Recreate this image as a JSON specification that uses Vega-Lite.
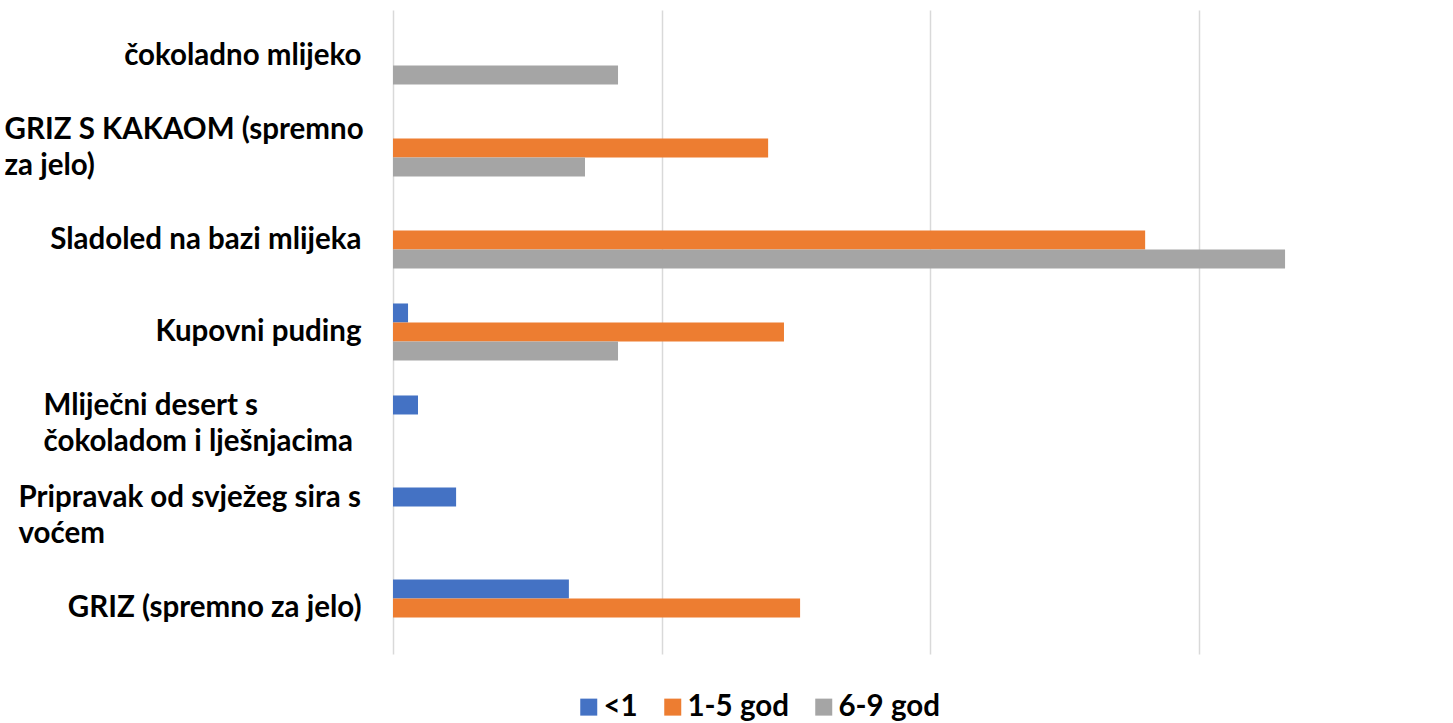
{
  "$schema": "https://vega.github.io/schema/vega-lite/v6.json",
  "autosize": "none",
  "padding": {"left": 393, "top": 10, "right": 147, "bottom": 69},
  "width": 913,
  "height": 644,
  "background": "white",
  "data": {
    "values": [
      {"category": "čokoladno mlijeko", "group": "6-9 god", "value": 0.838},
      {"category": "GRIZ S KAKAOM (spremno za jelo)", "group": "1-5 god", "value": 1.397},
      {"category": "GRIZ S KAKAOM (spremno za jelo)", "group": "6-9 god", "value": 0.715},
      {"category": "Sladoled na bazi mlijeka", "group": "1-5 god", "value": 2.801},
      {"category": "Sladoled na bazi mlijeka", "group": "6-9 god", "value": 3.322},
      {"category": "Kupovni puding", "group": "<1", "value": 0.056},
      {"category": "Kupovni puding", "group": "1-5 god", "value": 1.456},
      {"category": "Kupovni puding", "group": "6-9 god", "value": 0.838},
      {"category": "Mliječni desert s čokoladom i lješnjacima", "group": "<1", "value": 0.093},
      {"category": "Pripravak od svježeg sira s voćem", "group": "<1", "value": 0.235},
      {"category": "GRIZ (spremno za jelo)", "group": "<1", "value": 0.655},
      {"category": "GRIZ (spremno za jelo)", "group": "1-5 god", "value": 1.516}
    ]
  },
  "mark": {"type": "bar"},
  "encoding": {
    "y": {
      "field": "category",
      "type": "nominal",
      "sort": ["čokoladno mlijeko", "GRIZ S KAKAOM (spremno za jelo)", "Sladoled na bazi mlijeka", "Kupovni puding", "Mliječni desert s čokoladom i lješnjacima", "Pripravak od svježeg sira s voćem", "GRIZ (spremno za jelo)"],
      "scale": {"paddingInner": 0.38, "paddingOuter": 0.19},
      "axis": {
        "title": null,
        "domain": false,
        "ticks": false,
        "labelFont": "Lato",
        "labelFontWeight": "bold",
        "labelFontSize": 29.5,
        "labelColor": "#000000",
        "labelLineHeight": 36,
        "labelLimit": 500,
        "labelAlign": {
          "condition": {"test": "indexof(['GRIZ S KAKAOM (spremno za jelo)', 'Mliječni desert s čokoladom i lješnjacima', 'Pripravak od svježeg sira s voćem'], datum.value) >= 0", "value": "left"},
          "value": "right"
        },
        "labelOffset": {
          "condition": {"test": "indexof(['GRIZ S KAKAOM (spremno za jelo)', 'Mliječni desert s čokoladom i lješnjacima', 'Pripravak od svježeg sira s voćem'], datum.value) >= 0", "value": -18},
          "value": 0
        },
        "labelPadding": {
          "condition": [
            {"test": "datum.value == 'GRIZ S KAKAOM (spremno za jelo)'", "value": 389},
            {"test": "datum.value == 'Mliječni desert s čokoladom i lješnjacima'", "value": 350},
            {"test": "datum.value == 'Pripravak od svježeg sira s voćem'", "value": 375}
          ],
          "value": 32
        },
        "labelExpr": "datum.label == 'GRIZ S KAKAOM (spremno za jelo)' ? ['GRIZ S KAKAOM (spremno', 'za jelo)'] : datum.label == 'Mliječni desert s čokoladom i lješnjacima' ? ['Mliječni desert s', 'čokoladom i lješnjacima'] : datum.label == 'Pripravak od svježeg sira s voćem' ? ['Pripravak od svježeg sira s', 'voćem'] : datum.label"
      }
    },
    "yOffset": {
      "field": "group",
      "type": "nominal",
      "scale": {"domain": ["<1", "1-5 god", "6-9 god"], "paddingInner": 0, "paddingOuter": 0}
    },
    "x": {
      "field": "value",
      "type": "quantitative",
      "scale": {"domain": [0, 3.4], "nice": false, "zero": true},
      "axis": {
        "title": null,
        "values": [0, 1, 2, 3],
        "labels": false,
        "ticks": false,
        "domain": false,
        "grid": true,
        "gridColor": "#d9d9d9",
        "gridWidth": 1.5
      }
    },
    "color": {
      "field": "group",
      "type": "nominal",
      "scale": {"domain": ["<1", "1-5 god", "6-9 god"], "range": ["#4472C4", "#ED7D31", "#A5A5A5"]},
      "legend": {
        "title": null,
        "orient": "none",
        "direction": "horizontal",
        "legendX": 181,
        "legendY": 682,
        "symbolType": "square",
        "symbolSize": 289,
        "symbolStrokeWidth": 0,
        "labelFont": "Lato",
        "labelFontWeight": "bold",
        "labelFontSize": 29.5,
        "labelColor": "#000000",
        "labelOffset": 0,
        "columnPadding": 20,
        "labelLimit": 300
      }
    }
  },
  "config": {
    "view": {"stroke": null}
  }
}
